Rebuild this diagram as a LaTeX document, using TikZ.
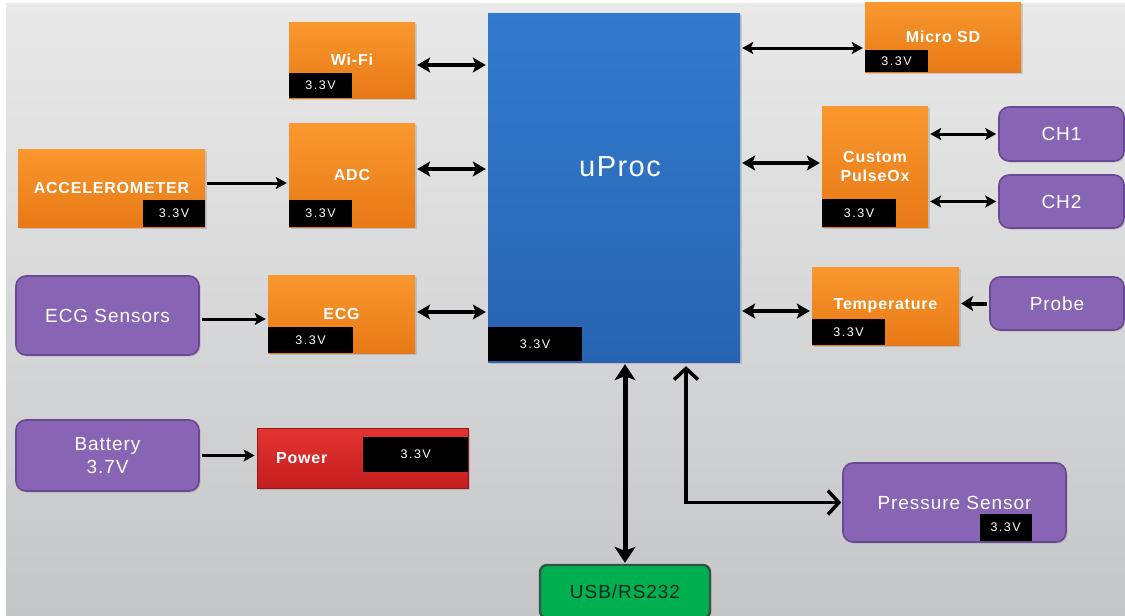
\documentclass[tikz,border=0pt]{standalone}
\usepackage{fontspec}
\setmainfont{Liberation Sans}
\newfontfamily\lblfont[LetterSpace=5]{Liberation Sans}
\newfontfamily\voltfont[LetterSpace=12]{Liberation Sans}
\usetikzlibrary{arrows.meta,shadows}

\definecolor{bgTop}{RGB}{233,233,233}
\definecolor{bgBot}{RGB}{197,198,200}
\definecolor{orTop}{RGB}{249,152,46}
\definecolor{orBot}{RGB}{232,121,22}
\definecolor{blTop}{RGB}{50,123,205}
\definecolor{blBot}{RGB}{40,100,178}
\definecolor{purp}{RGB}{136,100,180}
\definecolor{purpEdge}{RGB}{104,74,146}
\definecolor{rdTop}{RGB}{228,52,50}
\definecolor{rdBot}{RGB}{196,30,30}
\definecolor{rdEdge}{RGB}{150,22,22}
\definecolor{grn}{RGB}{0,176,80}
\definecolor{grnEdge}{RGB}{52,84,72}
\definecolor{usbText}{RGB}{28,40,30}

\begin{document}
\begin{tikzpicture}[x=1pt,y=-1pt,
  sz/.style 2 args={minimum width=#1pt,minimum height=#2pt},
  base/.style={rectangle,inner sep=0pt,
    drop shadow={shadow xshift=1.5pt,shadow yshift=-1.5pt,opacity=0.3}},
  obox/.style={base,top color=orTop,bottom color=orBot,text=white,align=center,
    font=\lblfont\bfseries\fontsize{16}{19}\selectfont},
  pbox/.style={base,rounded corners=10pt,fill=purp,draw=purpEdge,line width=1.6pt,
    text=white,align=center,font=\lblfont\fontsize{19}{23}\selectfont},
  volt/.style={rectangle,fill=black,inner sep=0pt,text=white,
    font=\voltfont\fontsize{12.5}{14}\selectfont},
  gap/.style={shorten <=2pt,shorten >=2pt},
  bus/.style={gap,line width=4pt,{Stealth[length=13pt,width=15pt,inset=3pt]}-{Stealth[length=13pt,width=15pt,inset=3pt]}},
  link/.style={gap,line width=3pt,{Stealth[length=11pt,width=12pt,inset=2.5pt]}-{Stealth[length=11pt,width=12pt,inset=2.5pt]}},
  feed/.style={gap,line width=3pt,-{Stealth[length=11pt,width=12pt,inset=2.5pt]}},
  feedbig/.style={gap,line width=4pt,-{Stealth[length=12pt,width=15pt,inset=3pt]}},
  serial/.style={line width=5pt,{Stealth[length=16pt,width=21pt,inset=4pt]}-{Stealth[length=16pt,width=21pt,inset=4pt]}},
  sensorbus/.style={line width=3.5pt,line join=miter,
    {Straight Barb[length=11pt,width=24pt,line width=3.5pt]}-{Straight Barb[length=11pt,width=24pt,line width=3.5pt]}}
]
\useasboundingbox (0,0) rectangle (1125,616);

% backdrop
\fill[white] (0,0) rectangle (1125,616);
\shade[top color=bgTop,bottom color=bgBot] (6,3) rectangle (1125,616);

% processor
\node[base,sz={252}{349},top color=blTop,bottom color=blBot] (uproc) at (614,187.5) {};
\node[text=white,font=\lblfont\fontsize{29}{34}\selectfont] (uproct) at (620,167) {uProc};

% orange function blocks
\node[obox,sz={126}{76}]  (wifi)    at (352,60)      {\raisebox{-3pt}{Wi-Fi}};
\node[obox,sz={126}{104}] (adc)     at (352,175)     {ADC};
\node[obox,sz={187}{78}]  (accel)   at (111.5,188)   {ACCELEROMETER};
\node[obox,sz={147}{78}]  (ecg)     at (341.5,314)   {ECG};
\node[obox,sz={156}{70}]  (microsd) at (943,37)      {Micro SD};
\node[obox,sz={106}{121}] (pulseox) at (875,166.5)   {Custom\\PulseOx};
\node[obox,sz={147}{78}]  (temp)    at (885.5,306)   {Temperature};

% power regulator
\node[base,sz={211}{60},top color=rdTop,bottom color=rdBot,draw=rdEdge,line width=0.8pt] (power) at (362.5,458) {};
\node[anchor=west,text=white,font=\lblfont\bfseries\fontsize{16}{19}\selectfont] (powert) at ([xshift=16pt]power.west) {Power};

% sensors and external parts
\node[pbox,sz={183}{79}] (ecgs)  at (107.5,315.5) {ECG Sensors};
\node[pbox,sz={183}{71}] (batt)  at (107.5,455.5) {Battery\\3.7V};
\node[pbox,sz={125}{54}] (ch1)   at (1061.5,134)  {CH1};
\node[pbox,sz={125}{53}] (ch2)   at (1061.5,201.5){CH2};
\node[pbox,sz={134}{53}] (probe) at (1057,303.5)  {Probe};
\node[pbox,sz={223}{79}] (press) at (954.5,502.5) {Pressure Sensor};
\node[base,sz={170}{53},rounded corners=7pt,fill=grn,draw=grnEdge,line width=2.4pt,
      text=usbText,font=\lblfont\fontsize{19}{23}\selectfont] (usb) at (625,591.5) {USB/RS232};

% supply voltage tags
\node[volt,sz={63}{25},anchor=south west]  (wifiv)    at (wifi.south west)    {3.3V};
\node[volt,sz={63}{27},anchor=south west]  (adcv)     at (adc.south west)     {3.3V};
\node[volt,sz={62}{27},anchor=south east]  (accelv)   at (accel.south east)   {3.3V};
\node[volt,sz={85}{26},anchor=south west]  (ecgv)     at (ecg.south west)     {3.3V};
\node[volt,sz={94}{34},anchor=south west]  (uprocv)   at ([yshift=1pt]uproc.south west) {3.3V};
\node[volt,sz={63}{22},anchor=south west]  (microsdv) at (microsd.south west) {3.3V};
\node[volt,sz={74}{28},anchor=south west]  (pulseoxv) at (pulseox.south west) {3.3V};
\node[volt,sz={73}{26},anchor=south west]  (tempv)    at (temp.south west)    {3.3V};
\node[volt,sz={105}{35},anchor=north east] (powerv)   at ([yshift=-9pt]power.north east) {3.3V};
\node[volt,sz={52}{27},anchor=south east]  (pressv)   at ([xshift=-35pt,yshift=2pt]press.south east) {3.3V};

% links to the processor
\draw[bus]  ([yshift=-5pt]wifi.east) -- ([yshift=-5pt]wifi.east -| uproc.west);
\draw[bus]  ([yshift=6pt]adc.east) -- ([yshift=6pt]adc.east -| uproc.west);
\draw[bus]  ([yshift=2pt]ecg.east) -- ([yshift=2pt]ecg.east -| uproc.west);
\draw[link] ([yshift=-11pt]microsd.west -| uproc.east) -- ([yshift=-11pt]microsd.west);
\draw[bus]  ([yshift=3.5pt]pulseox.west -| uproc.east) -- ([yshift=3.5pt]pulseox.west);
\draw[bus]  ([yshift=-5pt]temp.west -| uproc.east) -- ([yshift=-5pt]temp.west);

% pulse oximeter channels
\draw[link] (ch1.west -| pulseox.east) -- (ch1.west);
\draw[link] (ch2.west -| pulseox.east) -- (ch2.west);

% sensor inputs
\draw[feedbig] (probe.west) -- (probe.west -| temp.east);
\draw[feed] ([yshift=5pt]accel.east) -- ([yshift=5pt]accel.east -| adc.west);
\draw[feed] ([yshift=-3.5pt]ecgs.east) -- ([yshift=-3.5pt]ecgs.east -| ecg.west);
\draw[feed] (batt.east) -- (batt.east -| power.west);

% processor to host and pressure sensor
\draw[serial] ([yshift=-2pt]usb.north |- uproc.south) -- ([yshift=1pt]usb.north);
\draw[sensorbus] ([xshift=72pt,yshift=-4pt]uproc.south) |- ([xshift=-1pt]press.west);
\end{tikzpicture}
\end{document}
